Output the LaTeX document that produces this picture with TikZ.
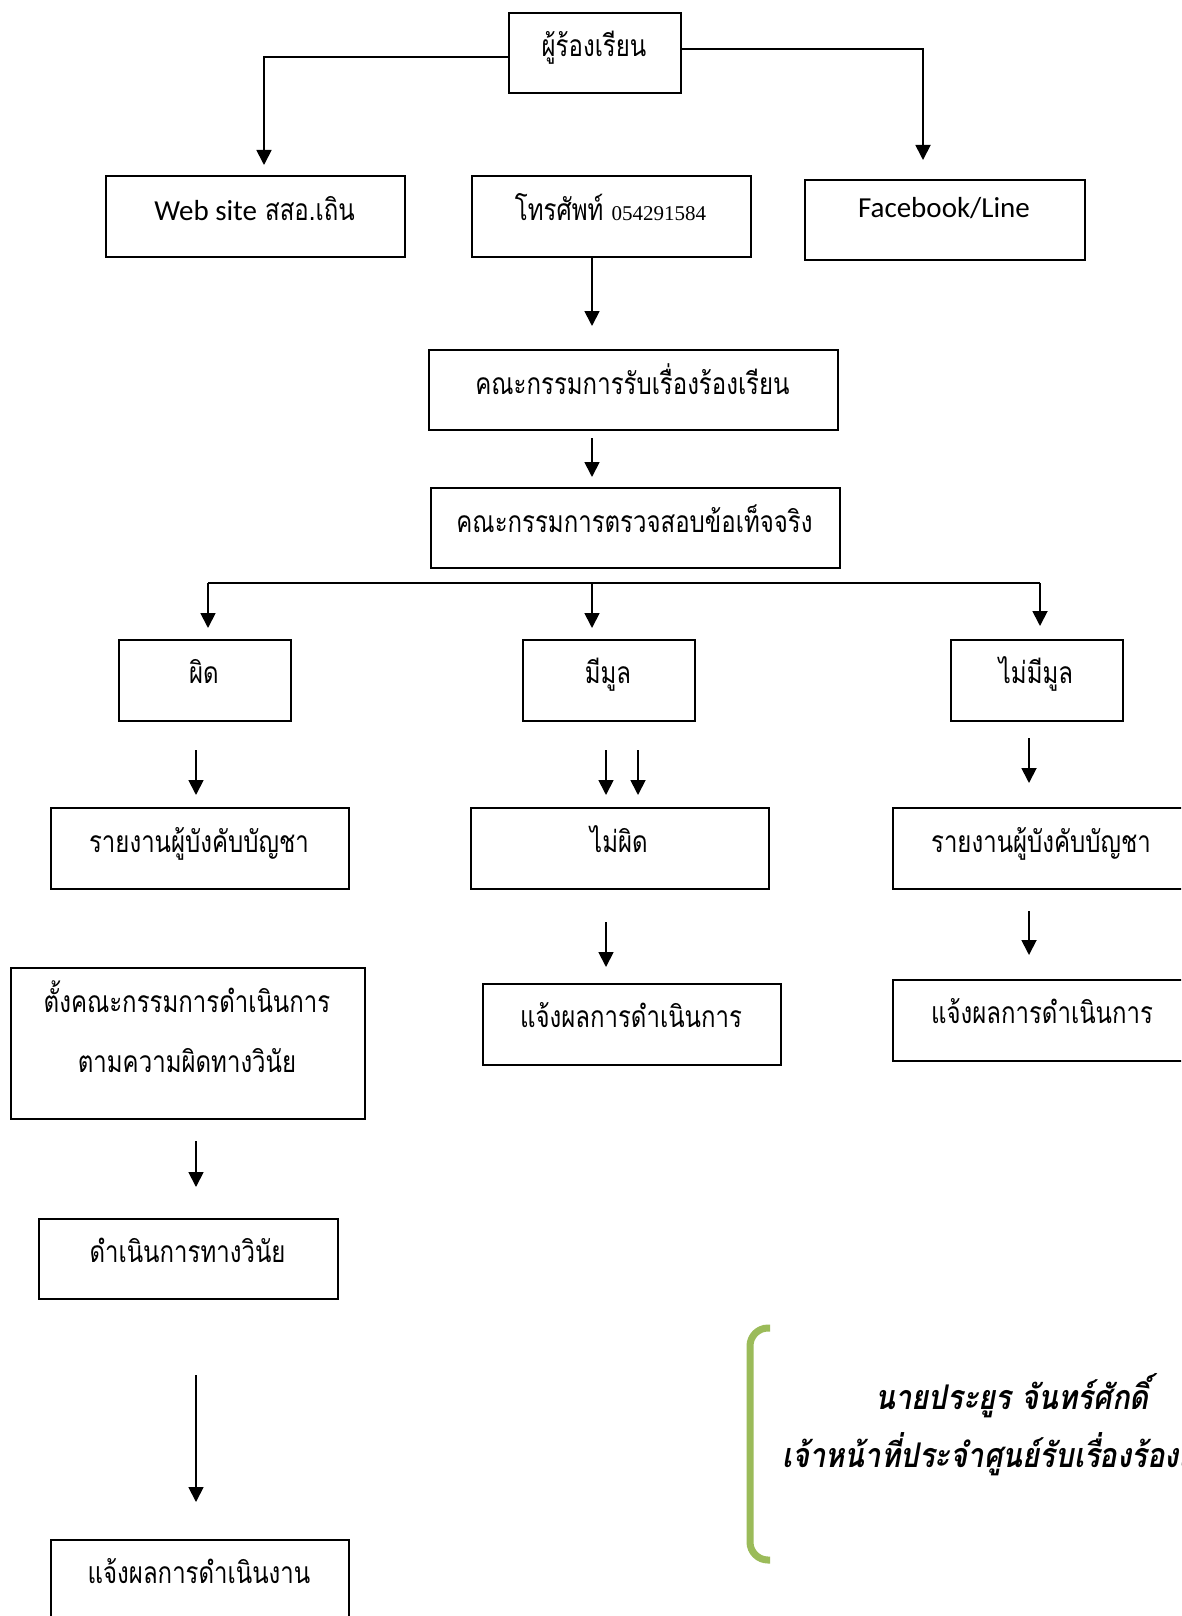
\documentclass[tikz,border=0pt]{standalone}
\usepackage{fontspec}
\usetikzlibrary{arrows.meta}
\newfontfamily\thaif[Script=Thai, FakeStretch=0.8]{Loma}
\newfontfamily\thais[Script=Thai, FakeStretch=0.86]{Loma}
\newfontfamily\sansf{Carlito}
\newfontfamily\serf{Liberation Serif}
\definecolor{brgreen}{HTML}{9BBB59}
\tikzset{
  bx/.style={draw, line width=1.6pt, inner sep=0pt},
  tx/.style={anchor=base, inner sep=0pt, font=\thaif\fontsize{30}{34}\selectfont},
  arr/.style={line width=1.8pt, -{Triangle[length=15pt,width=15pt]}},
  ln/.style={line width=1.8pt},
  sig/.style={anchor=base, inner sep=0pt, font=\thais\bfseries\itshape\fontsize{34}{38}\selectfont},
}
\newcommand{\bxx}[7]{%
  \node[bx, anchor=north west, minimum width={#4-#2}, minimum height={#5-#3}] (#1) at (#2,#3) {};
  \node[tx] (#1-t) at ({(#2+#4)/2},#6) {#7};
}
\begin{document}
\begin{tikzpicture}[x=1pt,y=-1pt]
\useasboundingbox (0,0) rectangle (1181,1616);
\clip (0,0) rectangle (1181,1616);
\fill[white] (0,0) rectangle (1181,1616);

% boxes
\bxx{A}{508}{12}{680}{92}{57}{ผู้ร้องเรียน}
\bxx{web}{105}{175}{404}{256}{220}{{\sansf\fontsize{29}{32}\selectfont Web site} สสอ.เถิน}
\bxx{phone}{471}{175}{750}{256}{220}{โทรศัพท์ {\serf\fontsize{21}{24}\selectfont 054291584}}
\bxx{fb}{804}{179}{1084}{259}{218}{{\sansf\fontsize{29}{32}\selectfont Facebook/Line}}
\bxx{B}{428}{349}{837}{429}{394}{คณะกรรมการรับเรื่องร้องเรียน}
\bxx{C}{430}{487}{839}{567}{532}{คณะกรรมการตรวจสอบข้อเท็จจริง}
\bxx{r3a}{118}{639}{290}{720}{683}{ผิด}
\bxx{r3b}{522}{639}{694}{720}{683}{มีมูล}
\bxx{r3c}{950}{639}{1122}{720}{683}{ไม่มีมูล}
\bxx{r4a}{50}{807}{348}{888}{852}{รายงานผู้บังคับบัญชา}
\bxx{r4b}{470}{807}{768}{888}{852}{ไม่ผิด}
\bxx{r4c}{892}{807}{1190}{888}{852}{รายงานผู้บังคับบัญชา}
\bxx{r5a}{10}{967}{364}{1118}{1012}{ตั้งคณะกรรมการดำเนินการ}
\node[tx] (r5a-t2) at (187,1072) {ตามความผิดทางวินัย};
\bxx{r5b}{482}{983}{780}{1064}{1027}{แจ้งผลการดำเนินการ}
\bxx{r5c}{892}{979}{1192}{1060}{1023}{แจ้งผลการดำเนินการ}
\bxx{r6}{38}{1218}{337}{1298}{1262}{ดำเนินการทางวินัย}
\bxx{r7}{50}{1539}{348}{1620}{1583}{แจ้งผลการดำเนินงาน}

% connectors
\coordinate (aL) at (264,165);
\coordinate (aR) at (923,160);
\draw[arr] ([yshift=-4pt]A.west) -| (aL);
\draw[arr] ([yshift=4pt]A.east) -| (aR);

\coordinate (p1) at (592,326);
\draw[arr] (phone.south -| p1) -- (p1);

\coordinate (b0) at (592,438);
\coordinate (b1) at (592,477);
\draw[arr] (b0) -- (b1);

\coordinate (barL) at (208,583);
\coordinate (barM) at (592,583);
\coordinate (barR) at (1040,583);
\draw[ln] (barL) -- (barR);
\coordinate (tL) at (208,628);
\coordinate (tM) at (592,628);
\coordinate (tR) at (1040,626);
\draw[arr] (barL) -- (tL);
\draw[arr] (barM) -- (tM);
\draw[arr] (barR) -- (tR);

\coordinate (c1s) at (196,750); \coordinate (c1e) at (196,795);
\coordinate (c2s) at (606,750); \coordinate (c2e) at (606,795);
\coordinate (c3s) at (638,750); \coordinate (c3e) at (638,795);
\coordinate (c4s) at (1029,738); \coordinate (c4e) at (1029,783);
\draw[arr] (c1s) -- (c1e);
\draw[arr] (c2s) -- (c2e);
\draw[arr] (c3s) -- (c3e);
\draw[arr] (c4s) -- (c4e);

\coordinate (d1s) at (606,922); \coordinate (d1e) at (606,967);
\coordinate (d2s) at (1029,911); \coordinate (d2e) at (1029,955);
\draw[arr] (d1s) -- (d1e);
\draw[arr] (d2s) -- (d2e);

\coordinate (e1s) at (196,1141); \coordinate (e1e) at (196,1187);
\coordinate (e2s) at (196,1375); \coordinate (e2e) at (196,1502);
\draw[arr] (e1s) -- (e1e);
\draw[arr] (e2s) -- (e2e);

% bracket and signature
\draw[brgreen, line width=7pt, rounded corners=18pt] (770,1328) -- (750,1328) -- (750,1560) -- (770,1560);
\node[sig] (sig1) at (1012,1409) {นายประยูร จันทร์ศักดิ์};
\node[sig] (sig2) at (1012,1467) {เจ้าหน้าที่ประจำศูนย์รับเรื่องร้องเรียน};
\end{tikzpicture}
\end{document}
